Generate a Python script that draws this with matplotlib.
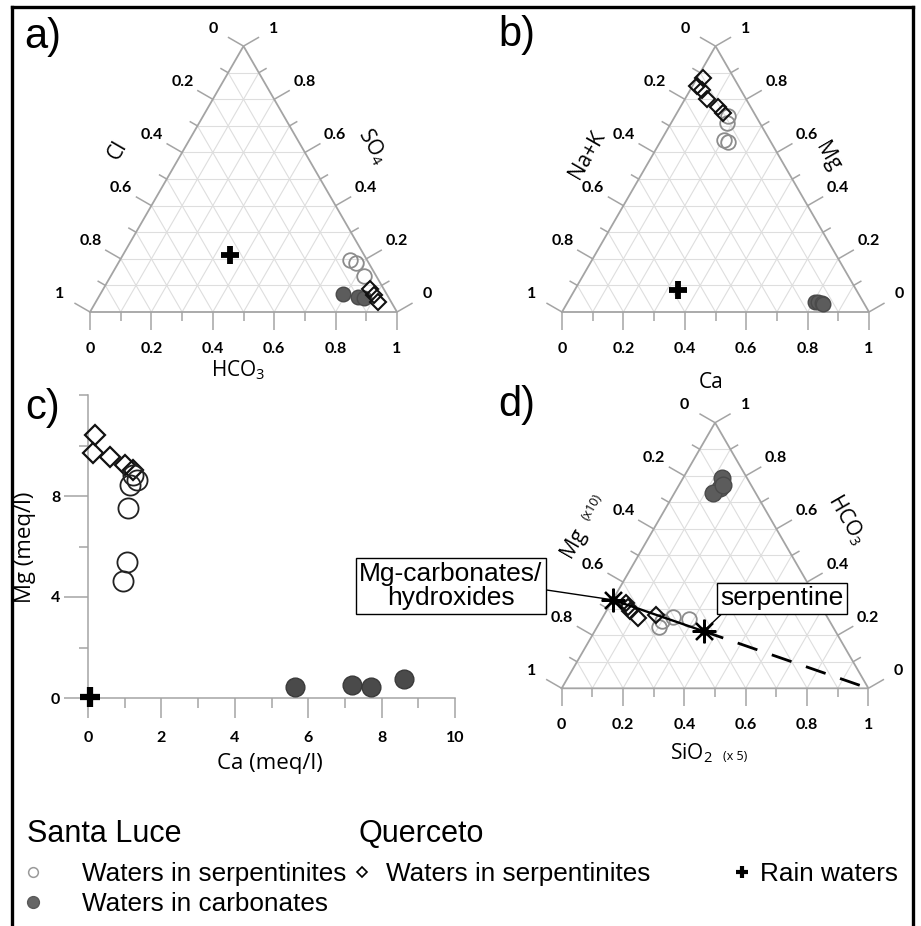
import numpy as np
import matplotlib
matplotlib.use("Agg")
import matplotlib.pyplot as plt
from matplotlib.lines import Line2D

plt.rcParams["mathtext.fontset"] = "custom"
plt.rcParams["mathtext.rm"] = "Open Sans"
plt.rcParams["mathtext.it"] = "Open Sans:italic"
plt.rcParams["lines.scale_dashes"] = False

# ---------------- data ----------------
# a) anions: Cl (lower-left vertex), HCO3 (lower-right), SO4 (top)
a_serp_cl = [0.056, 0.042, 0.040]
a_serp_hco3 = [0.749, 0.774, 0.825]
a_serp_so4 = [0.195, 0.184, 0.135]
a_carb_cl = [0.142, 0.099, 0.081]
a_carb_hco3 = [0.790, 0.845, 0.866]
a_carb_so4 = [0.068, 0.056, 0.053]
a_q_cl = [0.045, 0.043, 0.043]
a_q_hco3 = [0.869, 0.893, 0.919]
a_q_so4 = [0.086, 0.064, 0.038]
a_rain = (0.437, 0.349, 0.214)

# b) cations: Na+K (lower-left), Ca (lower-right), Mg (top)
b_serp_nak = [0.090, 0.109, 0.148, 0.140]
b_serp_ca = [0.173, 0.182, 0.205, 0.220]
b_serp_mg = [0.737, 0.709, 0.647, 0.640]
b_carb_nak = [0.156, 0.148, 0.138, 0.135]
b_carb_ca = [0.805, 0.816, 0.829, 0.835]
b_carb_mg = [0.039, 0.036, 0.033, 0.030]
b_q_nak = [0.100, 0.134, 0.127, 0.127, 0.105, 0.100]
b_q_ca = [0.021, 0.016, 0.038, 0.070, 0.123, 0.151]
b_q_mg = [0.879, 0.850, 0.835, 0.803, 0.772, 0.749]
b_rain = (0.580, 0.337, 0.083)

# c) Ca vs Mg (meq/l)
c_serp_ca = [1.23, 1.33, 1.14, 1.10, 1.05, 0.96]
c_serp_mg = [8.83, 8.63, 8.44, 7.51, 5.40, 4.63]
c_carb_ca = [5.65, 7.20, 7.71, 8.60]
c_carb_mg = [0.42, 0.51, 0.42, 0.75]
c_q_ca = [0.19, 0.14, 0.60, 1.01, 1.23]
c_q_mg = [10.42, 9.69, 9.56, 9.23, 9.03]
c_rain = (0.06, 0.04)

# d) Mg x10 (lower-left), SiO2 x5 (lower-right), HCO3 (top)
d_serp_mg = [0.567, 0.546, 0.503, 0.454]
d_serp_si = [0.202, 0.200, 0.228, 0.285]
d_serp_hco3 = [0.231, 0.254, 0.269, 0.261]
d_carb_mg = [0.082, 0.107, 0.137, 0.091]
d_carb_si = [0.126, 0.139, 0.126, 0.143]
d_carb_hco3 = [0.792, 0.754, 0.737, 0.766]
d_q_mg = [0.630, 0.631, 0.631, 0.617, 0.555]
d_q_si = [0.050, 0.064, 0.077, 0.117, 0.169]
d_q_hco3 = [0.320, 0.305, 0.292, 0.266, 0.276]
mineral_names = ["Mg-carbonates/\nhydroxides", "serpentine"]
mineral_mg = [0.667, 0.430]
mineral_si = [0.0, 0.355]
mineral_hco3 = [0.333, 0.215]
silica_end = (0.0, 1.0, 0.0)

# ---------------- figure ----------------
W, H = 921, 926
fig = plt.figure(figsize=(W / 100, H / 100), dpi=100)
fig.patch.set_facecolor("white")
S3 = np.sqrt(3) / 2

EDGE = "#a4a4a4"
GRID = "#dedede"
LATO = ["Lato", "DejaVu Sans"]
OPEN = ["Open Sans", "DejaVu Sans"]
ARIAL = ["Liberation Sans", "DejaVu Sans"]
TICKFONT = dict(family=LATO, weight="bold", fontsize=11.5)
TITLEFONT = dict(family=OPEN, fontsize=15)


def ftext(x, y, s, **kw):
    kw.setdefault("ha", "center")
    kw.setdefault("va", "center")
    return fig.text(x / W, 1 - y / H, s, **kw)


def tern(left, bottom, top):
    left, bottom, top = (np.asarray(v, float) for v in (left, bottom, top))
    tot = left + bottom + top
    return (bottom + top / 2) / tot, top * S3 / tot


def tern_axes(x0, y0, side):
    m = 0.3
    ax = fig.add_axes([(x0 - m * side) / W, (H - y0 - m * side) / H,
                       (1 + 2 * m) * side / W, (S3 + 2 * m) * side / H])
    ax.set_xlim(-m, 1 + m)
    ax.set_ylim(-m, S3 + m)
    ax.axis("off")
    ax.patch.set_alpha(0)
    return ax


def tern_frame(ax, side):
    px = 1.0 / side
    for k in range(1, 10):
        v = k / 10
        ax.plot([0.5 * v, 1 - 0.5 * v], [v * S3, v * S3], color=GRID, lw=0.8, zorder=1)
        ax.plot([v, v + 0.5 * (1 - v)], [0, (1 - v) * S3], color=GRID, lw=0.8, zorder=1)
        ax.plot([1 - v, 0.5 * (1 - v)], [0, (1 - v) * S3], color=GRID, lw=0.8, zorder=1)
    ax.plot([0, 1, 0.5, 0], [0, 0, S3, 0], color=EDGE, lw=1.3, zorder=2,
            solid_joinstyle="miter")
    dirs = {"left": (-S3, 0.5), "right": (S3, 0.5), "bottom": (0.0, -1.0)}
    for k in range(11):
        v = k / 10
        pts = {"left": ((1 - v) * 0.5, (1 - v) * S3),
               "right": (1 - 0.5 * v, v * S3),
               "bottom": (v, 0.0)}
        major = k % 2 == 0
        ln = (18 if major else 9) * px
        for key, (x, y) in pts.items():
            dx, dy = dirs[key]
            ax.plot([x, x + dx * ln], [y, y + dy * ln], color=EDGE, lw=1.1,
                    zorder=2, solid_capstyle="butt")
            if major:
                lab = "0" if k == 0 else ("1" if k == 10 else f"{v:.1f}")
                off = (37 if key == "bottom" else 35) * px
                ax.text(x + dx * off, y + dy * off, lab, ha="center", va="center",
                        **TICKFONT)


OPEN_T = dict(marker="o", ms=10.5, mfc="none", mec="#8c8c8c", mew=1.3, ls="none")
FILL_T = dict(marker="o", ms=10.5, mfc="#5c5c5c", mec="#4a4a4a", mew=1.0, ls="none")
DIAM_T = dict(marker="D", ms=8.0, mfc="none", mec="#111111", mew=1.5, ls="none")
PLUS_T = dict(marker="+", ms=13, mec="black", mew=4.2, ls="none")

# ---- a) ----
side_a = 307
ax_a = tern_axes(90, 312, side_a)
tern_frame(ax_a, side_a)
ax_a.plot(*tern(a_carb_cl, a_carb_hco3, a_carb_so4), **FILL_T, zorder=3, clip_on=False)
ax_a.plot(*tern(a_serp_cl, a_serp_hco3, a_serp_so4), **OPEN_T, zorder=4, clip_on=False)
ax_a.plot(*tern(a_q_cl, a_q_hco3, a_q_so4), **DIAM_T, zorder=5, clip_on=False)
ax_a.plot(*tern(*[[v] for v in a_rain]), **PLUS_T, zorder=6, clip_on=False)
ftext(118, 150, "Cl", rotation=60, **TITLEFONT)
ftext(373, 147, "SO$_4$", rotation=-60, **TITLEFONT)
ftext(238, 370, "HCO$_3$", **TITLEFONT)

# ---- b) ----
side_b = 307
ax_b = tern_axes(562, 312, side_b)
tern_frame(ax_b, side_b)
ax_b.plot(*tern(b_carb_nak, b_carb_ca, b_carb_mg), **FILL_T, zorder=3, clip_on=False)
ax_b.plot(*tern(b_serp_nak, b_serp_ca, b_serp_mg), **OPEN_T, zorder=4, clip_on=False)
ax_b.plot(*tern(b_q_nak, b_q_ca, b_q_mg), **DIAM_T, zorder=5, clip_on=False)
ax_b.plot(*tern(*[[v] for v in b_rain]), **PLUS_T, zorder=6, clip_on=False)
ftext(587, 155, "Na+K", rotation=60, **TITLEFONT)
ftext(828, 157, "Mg", rotation=-60, **TITLEFONT)
ftext(711, 383, "Ca", **TITLEFONT)

# ---- c) ----
axc = fig.add_axes([88 / W, (H - 698) / H, (455 - 88) / W, (698 - 395) / H])
axc.set_xlim(0, 10)
axc.set_ylim(0, 12)
axc.set_facecolor("none")
for s in ("top", "right"):
    axc.spines[s].set_visible(False)
for s in ("left", "bottom"):
    axc.spines[s].set_color(EDGE)
    axc.spines[s].set_linewidth(1.1)
xt = [0, 2, 4, 6, 8, 10]
yt = [0, 4, 8]
axc.set_xticks(xt)
axc.set_xticklabels([str(v) for v in xt], fontdict=dict(family=LATO, weight="bold", size=11.5))
axc.set_xticks([1, 3, 5, 7, 9], minor=True)
axc.set_yticks(yt)
axc.set_yticklabels([str(v) for v in yt], fontdict=dict(family=LATO, weight="bold", size=11.5))
axc.set_yticks([2, 6, 10, 12], minor=True)
axc.tick_params(axis="x", which="major", length=14.5, width=1.1, color=EDGE, pad=9)
axc.tick_params(axis="x", which="minor", length=7, width=1.1, color=EDGE)
axc.tick_params(axis="y", which="major", length=17, width=1.1, color=EDGE, pad=3)
axc.tick_params(axis="y", which="minor", length=6.5, width=1.1, color=EDGE)
axc.plot(c_carb_ca, c_carb_mg, marker="o", ms=13.5, mfc="#4a4a4a", mec="#3a3a3a",
         mew=1, ls="none", zorder=3, clip_on=False)
axc.plot(c_q_ca, c_q_mg, marker="D", ms=10, mfc="none", mec="#111111", mew=1.6,
         ls="none", zorder=4, clip_on=False)
axc.plot(c_serp_ca, c_serp_mg, marker="o", ms=14.5, mfc="none", mec="#222222", mew=1.3,
         ls="none", zorder=5, clip_on=False)
axc.plot([c_rain[0]], [c_rain[1]], marker="+", ms=14, mec="black", mew=4.5, ls="none",
         zorder=6, clip_on=False)
ftext(270, 763, "Ca (meq/l)", family=OPEN, fontsize=16)
ftext(26, 547, "Mg (meq/l)", rotation=90, family=OPEN, fontsize=16)

# ---- d) ----
side_d = 306.7
ax_d = tern_axes(561.7, 688.3, side_d)
tern_frame(ax_d, side_d)
ax_d.plot(*tern(d_carb_mg, d_carb_si, d_carb_hco3), **dict(FILL_T, ms=12), zorder=3, clip_on=False)
ax_d.plot(*tern(d_serp_mg, d_serp_si, d_serp_hco3), **OPEN_T, zorder=3.5, clip_on=False)
ax_d.plot(*tern(d_q_mg, d_q_si, d_q_hco3), **DIAM_T, zorder=4, clip_on=False)

mx, my = tern(mineral_mg, mineral_si, mineral_hco3)
ex, ey = tern(*[[v] for v in silica_end])
ax_d.plot(mx, my, color="black", lw=1.7, zorder=5, solid_capstyle="butt")
ax_d.plot([mx[1], ex[0]], [my[1], ey[0]], color="black", lw=2.0, zorder=5,
          dashes=(15, 11), dash_capstyle="butt")
ax_d.plot(mx, my, marker=(8, 2, 0), ms=17, mec="black", mew=1.6, ls="none", zorder=7,
          clip_on=False)
ax_d.plot(mx, my, marker=(8, 1, 0), ms=9, mfc="black", mec="black", ls="none", zorder=7,
          clip_on=False)

box_kw = dict(boxstyle="square,pad=0.12", fc="white", ec="black", lw=1.0)
ax_d.annotate(mineral_names[0], xy=(mx[0], my[0]), xycoords="data",
              xytext=(451, H - 586), textcoords="figure pixels",
              ha="center", va="center", multialignment="center", linespacing=1.05,
              family=ARIAL, fontsize=19, bbox=box_kw, zorder=8, annotation_clip=False,
              arrowprops=dict(arrowstyle="-", color="black", lw=1.0, shrinkA=0, shrinkB=0,
                              relpos=(1.0, 0.43)))
ax_d.annotate(mineral_names[1], xy=(mx[1], my[1]), xycoords="data",
              xytext=(782, H - 598.5), textcoords="figure pixels",
              ha="center", va="center", family=ARIAL, fontsize=19, bbox=box_kw,
              zorder=8, annotation_clip=False,
              arrowprops=dict(arrowstyle="-", color="black", lw=1.0, shrinkA=0, shrinkB=0,
                              relpos=(0.04, 0.0)))

ftext(573, 543, "Mg", rotation=60, **TITLEFONT)
ftext(592, 507, "(x10)", rotation=60, family=OPEN, fontsize=9)
ftext(847, 520, "HCO$_3$", rotation=-60, **TITLEFONT)
ftext(691, 753, "SiO$_2$", **TITLEFONT)
ftext(735, 756, "(x 5)", family=OPEN, fontsize=9)

# ---- panel letters ----
PANEL = dict(family=ARIAL, fontsize=30)
ftext(43, 37, "a)", **PANEL)
ftext(517, 35, "b)", **PANEL)
ftext(43, 408, "c)", **PANEL)
ftext(517, 405, "d)", **PANEL)

# ---- legend ----
def fmark(x, y, **kw):
    fig.add_artist(Line2D([x / W], [1 - y / H], transform=fig.transFigure, ls="none", **kw))


HEAD = dict(family=ARIAL, fontsize=22, ha="left", va="baseline")
ITEM = dict(family=ARIAL, fontsize=18.8, ha="left", va="baseline")
ftext(27, 842, "Santa Luce", **HEAD)
ftext(358, 842, "Querceto", **HEAD)
fmark(33, 872, marker="o", ms=7, mfc="none", mec="#9a9a9a", mew=1.1)
ftext(82, 881, "Waters in serpentinites", **ITEM)
fmark(362, 872, marker="D", ms=5.5, mfc="none", mec="black", mew=1.2)
ftext(386, 881, "Waters in serpentinites", **ITEM)
fmark(742, 872, marker="+", ms=9, mec="black", mew=3)
ftext(760, 881, "Rain waters", **ITEM)
fmark(33, 902, marker="o", ms=8.5, mfc="#666666", mec="#5a5a5a", mew=1)
ftext(82, 911, "Waters in carbonates", **ITEM)

# ---- outer frame ----
for xs, ys in (([12, 12], [H + 5, 7]), ([12, 913], [7, 7]), ([913, 913], [7, H + 5])):
    fig.add_artist(Line2D([x / W for x in xs], [1 - y / H for y in ys],
                          transform=fig.transFigure, color="black", lw=2.4,
                          solid_capstyle="projecting"))

fig.savefig("out.png", dpi=100, facecolor="white")
